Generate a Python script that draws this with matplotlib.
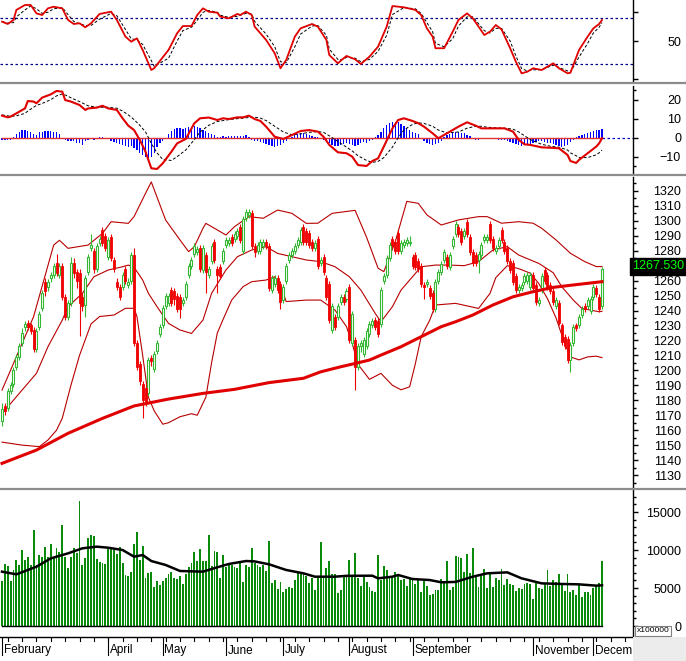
import numpy as np
import matplotlib
matplotlib.use('Agg')
import matplotlib.pyplot as plt
from matplotlib.lines import Line2D
from matplotlib.patches import Rectangle

plt.rcParams['font.family'] = ['Liberation Sans', 'DejaVu Sans']

# ---- giá (OHLC theo phiên) ----
opens = [1166, 1176, 1175, 1186, 1191, 1202, 1209, 1218, 1229, 1232,
         1230, 1227, 1214, 1229, 1242, 1259, 1256, 1262, 1264, 1272,
         1264, 1270, 1249, 1236, 1245, 1272, 1266, 1265, 1249, 1244,
         1266, 1282, 1280, 1268, 1285, 1294, 1290, 1276, 1289, 1274,
         1259, 1256, 1256, 1268, 1257, 1260, 1277, 1218, 1204, 1191,
         1188, 1185, 1208, 1201, 1213, 1224, 1230, 1243, 1245, 1254,
         1253, 1250, 1249, 1245, 1249, 1264, 1270, 1278, 1279, 1282,
         1267, 1277, 1264, 1273, 1286, 1268, 1269, 1273, 1284, 1285,
         1289, 1288, 1290, 1296, 1280, 1302, 1304, 1305, 1283, 1280,
         1280, 1283, 1286, 1283, 1254, 1258, 1262, 1258, 1247, 1260,
         1274, 1277, 1280, 1284, 1286, 1296, 1293, 1292, 1286, 1282,
         1288, 1272, 1276, 1262, 1258, 1227, 1236, 1236, 1246, 1249,
         1248, 1256, 1218, 1220, 1202, 1216, 1211, 1216, 1224, 1230,
         1234, 1233, 1231, 1260, 1264, 1275, 1288, 1286, 1292, 1280,
         1284, 1285, 1285, 1276, 1277, 1273, 1270, 1257, 1258, 1255,
         1252, 1241, 1260, 1266, 1274, 1276, 1269, 1283, 1291, 1296,
         1293, 1290, 1299, 1289, 1279, 1277, 1274, 1277, 1287, 1287,
         1298, 1288, 1280, 1283, 1294, 1286, 1282, 1273, 1272, 1263,
         1254, 1255, 1259, 1260, 1256, 1264, 1257, 1245, 1254, 1267,
         1264, 1257, 1253, 1243, 1245, 1230, 1222, 1221, 1207, 1218,
         1230, 1230, 1237, 1243, 1243, 1240, 1249, 1255, 1249, 1243]
closes = [1174, 1173, 1186, 1190, 1200, 1209, 1216, 1225, 1231, 1229,
          1226, 1214, 1226, 1238, 1252, 1253, 1259, 1264, 1270, 1265,
          1270, 1249, 1236, 1245, 1272, 1265, 1260, 1245, 1243, 1262,
          1276, 1284, 1268, 1283, 1288, 1285, 1282, 1287, 1275, 1268,
          1256, 1249, 1264, 1260, 1259, 1277, 1218, 1202, 1193, 1180,
          1179, 1207, 1206, 1211, 1218, 1229, 1242, 1250, 1250, 1245,
          1248, 1241, 1241, 1247, 1258, 1270, 1274, 1283, 1281, 1268,
          1282, 1266, 1268, 1283, 1274, 1264, 1263, 1280, 1287, 1287,
          1285, 1291, 1293, 1287, 1301, 1306, 1306, 1283, 1279, 1284,
          1286, 1286, 1283, 1255, 1262, 1262, 1254, 1246, 1256, 1270,
          1277, 1280, 1283, 1287, 1294, 1286, 1286, 1284, 1282, 1285,
          1270, 1274, 1266, 1249, 1234, 1243, 1229, 1243, 1249, 1246,
          1253, 1220, 1238, 1202, 1216, 1218, 1220, 1226, 1231, 1233,
          1229, 1224, 1254, 1263, 1275, 1284, 1284, 1280, 1280, 1285,
          1286, 1287, 1286, 1270, 1269, 1268, 1258, 1256, 1259, 1250,
          1241, 1259, 1266, 1271, 1279, 1270, 1277, 1288, 1298, 1291,
          1286, 1293, 1291, 1279, 1272, 1272, 1278, 1284, 1289, 1289,
          1287, 1282, 1282, 1287, 1287, 1280, 1273, 1267, 1259, 1254,
          1256, 1257, 1263, 1264, 1264, 1255, 1246, 1247, 1263, 1260,
          1256, 1253, 1246, 1247, 1232, 1219, 1216, 1207, 1217, 1229,
          1228, 1236, 1241, 1241, 1247, 1248, 1256, 1251, 1241, 1267.53]
highs = [1178, 1178, 1188, 1192, 1202, 1211, 1218, 1228, 1233, 1234,
         1232, 1229, 1228, 1240, 1254, 1262, 1261, 1266, 1272, 1278,
         1272, 1272, 1251, 1247, 1276, 1275, 1268, 1268, 1252, 1264,
         1278, 1291, 1282, 1285, 1290, 1296, 1292, 1289, 1291, 1276,
         1262, 1258, 1266, 1270, 1262, 1279, 1282, 1220, 1206, 1193,
         1192, 1209, 1210, 1213, 1220, 1231, 1244, 1252, 1252, 1256,
         1255, 1252, 1251, 1249, 1260, 1272, 1276, 1285, 1283, 1284,
         1284, 1279, 1270, 1285, 1288, 1270, 1271, 1282, 1289, 1289,
         1291, 1293, 1295, 1298, 1303, 1308, 1308, 1307, 1285, 1286,
         1288, 1288, 1288, 1285, 1264, 1264, 1264, 1260, 1258, 1272,
         1279, 1282, 1285, 1289, 1296, 1298, 1295, 1294, 1288, 1287,
         1290, 1276, 1278, 1264, 1260, 1245, 1238, 1245, 1251, 1251,
         1255, 1258, 1240, 1222, 1218, 1220, 1222, 1228, 1233, 1235,
         1236, 1235, 1256, 1265, 1277, 1286, 1290, 1288, 1294, 1287,
         1288, 1289, 1290, 1278, 1279, 1275, 1272, 1259, 1261, 1257,
         1254, 1261, 1268, 1273, 1281, 1278, 1279, 1290, 1300, 1298,
         1295, 1295, 1301, 1291, 1281, 1279, 1280, 1286, 1291, 1291,
         1300, 1290, 1284, 1289, 1296, 1288, 1284, 1275, 1274, 1265,
         1258, 1259, 1265, 1266, 1266, 1266, 1259, 1249, 1265, 1269,
         1266, 1259, 1255, 1249, 1247, 1232, 1224, 1223, 1219, 1231,
         1232, 1238, 1243, 1245, 1249, 1250, 1258, 1257, 1251, 1269]
lows = [1163, 1170, 1173, 1184, 1189, 1200, 1207, 1216, 1226, 1227,
        1224, 1212, 1212, 1227, 1240, 1250, 1253, 1259, 1262, 1263,
        1262, 1247, 1234, 1234, 1243, 1262, 1255, 1223, 1240, 1236,
        1264, 1280, 1265, 1266, 1283, 1283, 1280, 1274, 1273, 1266,
        1254, 1247, 1254, 1258, 1255, 1258, 1216, 1200, 1190, 1168,
        1176, 1183, 1203, 1199, 1211, 1222, 1228, 1241, 1243, 1243,
        1244, 1239, 1235, 1243, 1247, 1262, 1268, 1276, 1277, 1266,
        1265, 1252, 1262, 1271, 1272, 1252, 1261, 1271, 1282, 1283,
        1283, 1286, 1288, 1285, 1278, 1300, 1302, 1281, 1276, 1278,
        1278, 1281, 1281, 1253, 1252, 1256, 1252, 1241, 1245, 1258,
        1272, 1275, 1278, 1282, 1284, 1284, 1284, 1282, 1280, 1280,
        1268, 1270, 1264, 1247, 1232, 1225, 1227, 1234, 1244, 1244,
        1246, 1218, 1216, 1187, 1200, 1212, 1209, 1214, 1222, 1228,
        1227, 1222, 1229, 1258, 1262, 1273, 1282, 1278, 1278, 1278,
        1282, 1283, 1283, 1268, 1267, 1266, 1256, 1248, 1256, 1248,
        1239, 1239, 1258, 1264, 1272, 1268, 1267, 1281, 1289, 1289,
        1284, 1288, 1289, 1277, 1270, 1270, 1265, 1275, 1285, 1285,
        1285, 1280, 1278, 1281, 1285, 1278, 1271, 1265, 1257, 1252,
        1252, 1253, 1257, 1258, 1254, 1253, 1244, 1243, 1252, 1258,
        1254, 1251, 1244, 1241, 1230, 1217, 1214, 1205, 1199, 1216,
        1226, 1228, 1235, 1239, 1241, 1238, 1247, 1249, 1239, 1241]

# ---- khối lượng (x100000) ----
volumes = [5920, 8114, 7896, 5920, 7370, 8685, 8027, 10000, 8685, 9123,
           8027, 12632, 8027, 9342, 9123, 10439, 9123, 10745, 9123, 10307,
           9781, 13290, 9123, 7588, 9123, 10219, 9562, 16448, 8027, 8904,
           11623, 11974, 11842, 8816, 8465, 8246, 8158, 10439, 10439, 10000,
           9430, 10439, 8246, 6711, 6623, 7150, 10745, 12325, 8685, 10527,
           6272, 6930, 7062, 5176, 5920, 5395, 5920, 6360, 6799, 7150,
           6272, 6141, 6623, 5483, 6799, 7808, 8246, 9781, 8553, 10132,
           8553, 8553, 11974, 7939, 9869, 9781, 6272, 9342, 7808, 8114,
           8027, 7808, 7588, 8378, 5833, 8027, 7808, 10307, 8246, 8027,
           7808, 8027, 7237, 11185, 5702, 6053, 4869, 5746, 4518, 4869,
           5176, 4957, 6053, 7062, 7062, 6799, 6623, 5614, 6272, 4737,
           6623, 11097, 6623, 7588, 8553, 6799, 6799, 4299, 4737, 6492,
           6711, 8685, 6492, 9562, 6360, 5307, 6711, 5746, 5176, 4606,
           4518, 9342, 6053, 7896, 7370, 6360, 6623, 7062, 6799, 6053,
           6185, 5307, 6141, 6360, 5483, 6053, 4518, 5920, 5263, 4080,
           4167, 4737, 4737, 6185, 5746, 8553, 4737, 5176, 9211, 9123,
           8992, 7062, 9430, 6930, 10307, 6711, 5176, 6623, 7500, 4957,
           6799, 5176, 6360, 6053, 7500, 5395, 6185, 5483, 5395, 4606,
           5044, 4869, 5483, 5614, 5483, 3553, 5614, 5044, 4869, 5483,
           7370, 5307, 6053, 5833, 6799, 5614, 4606, 6799, 4430, 4737,
           4080, 5395, 3860, 4430, 4518, 4080, 5044, 5395, 5614, 8553]
vma_x = [0, 5, 12, 17, 23, 28, 33, 37, 42, 46, 49, 52, 57, 62, 70, 73, 79, 85, 88, 93,
         99, 105, 109, 116, 120, 129, 131, 136, 138, 143, 149, 153, 158, 164, 169, 176,
         181, 188, 195, 201, 207, 209]
vma_y = [7150, 6800, 7800, 8900, 9560, 10220, 10440, 10300, 10000, 9120, 9340, 8550,
         8030, 7240, 7150, 7500, 8160, 8550, 8500, 8120, 7370, 6930, 6490, 6490, 6600,
         6620, 6270, 6490, 6710, 6180, 6050, 5750, 5800, 6490, 6930, 7060, 6270, 5610,
         5530, 5480, 5310, 5350]

# ---- Bollinger & MA200 ----
bb_up_x = [0, 11, 18, 20, 23, 30, 35, 38, 44, 46, 50, 52, 57, 62, 65, 67, 70, 71, 75, 78,
           81, 86, 91, 96, 101, 106, 110, 115, 119, 123, 127, 131, 133, 137, 141, 145, 148,
           153, 159, 166, 169, 174, 180, 185, 188, 193, 198, 203, 207, 209]
bb_up = [1186.8, 1235.9, 1283.8, 1287, 1281.6, 1283.8, 1291.6, 1299.4, 1298.3, 1302.8,
         1318.4, 1326, 1300.5, 1287.2, 1279.4, 1282.7, 1295, 1298.3, 1293.9, 1290.5,
         1296.1, 1302.8, 1301.7, 1307.2, 1305, 1298.3, 1298.4, 1305, 1306, 1307,
         1289, 1268.3, 1266, 1286.1, 1313, 1311.7, 1304, 1297.2, 1300.6, 1302.8,
         1302.8, 1298.4, 1299.4, 1298.4, 1295, 1287.2, 1278.3, 1272.7, 1269.4, 1269.4]
bb_mid_x = [0, 6, 12, 16, 21, 23, 28, 32, 37, 42, 44, 46, 49, 51, 54, 58, 62, 66, 70, 73,
            78, 82, 87, 92, 96, 101, 106, 111, 116, 121, 125, 130, 132, 136, 139, 143, 146,
            151, 156, 161, 166, 171, 176, 180, 187, 192, 195, 199, 202, 208, 209]
bb_mid = [1171, 1184.6, 1198, 1215.8, 1233.6, 1242.6, 1251.5, 1262.6, 1267.1, 1269.3,
          1270.4, 1268.9, 1260.4, 1251.5, 1242.6, 1231.4, 1227, 1224.7, 1233.6, 1251.5,
          1267.1, 1276, 1280.5, 1282.7, 1278.2, 1276, 1273.8, 1272.7, 1269.3, 1262.6,
          1253.7, 1238.1, 1232.5, 1242.6, 1253.7, 1262.6, 1269.3, 1270.4, 1270.4, 1270,
          1272.7, 1280.5, 1282.7, 1277.1, 1271.5, 1265.3, 1255.9, 1247, 1241.4, 1239.2, 1239.5]
bb_lo_x = [0, 7, 13, 16, 19, 21, 24, 27, 31, 34, 39, 43, 46, 47, 49, 51, 53, 56, 58, 62,
           66, 68, 71, 73, 75, 77, 80, 84, 87, 92, 95, 98, 99, 106, 111, 116, 120, 122, 124,
           128, 132, 136, 139, 142, 144, 146, 149, 151, 158, 166, 170, 172, 176, 180, 184,
           187, 190, 193, 196, 198, 201, 204, 207, 209]
bb_lo = [1152, 1150, 1149, 1153.4, 1160, 1168, 1190, 1210, 1231, 1236,
         1237, 1241.5, 1241.5, 1236, 1210, 1182, 1173, 1164, 1165, 1169,
         1171, 1170, 1182, 1205, 1225, 1234, 1247, 1256, 1259.3, 1260.4,
         1262.6, 1251.5, 1246, 1247, 1247, 1240.3, 1229.2, 1218, 1204, 1194,
         1198, 1190, 1187, 1189, 1204.6, 1222.5, 1233.6, 1243.7, 1244.8, 1241.4,
         1251.5, 1262, 1270, 1268, 1265, 1258, 1248, 1235, 1218, 1209,
         1207, 1209, 1209.5, 1208.5]
ma_x = [0, 12, 23, 35, 46, 58, 70, 81, 93, 105, 111, 118, 123, 128, 132, 139, 146, 153,
        158, 164, 171, 178, 185, 192, 199, 209]
ma_y = [1137.8, 1146.7, 1157.9, 1167.9, 1176.2, 1180.8, 1184.6, 1187.3, 1191.8, 1194.7,
        1199, 1202.4, 1204.6, 1206.9, 1210.2, 1215.8, 1222.5, 1229.2, 1232.5, 1237,
        1243.7, 1249.2, 1252.6, 1255.5, 1257.1, 1259.3]

# ---- RSI ----
rsi_x = [0, 2, 4, 5, 8, 10, 12, 14, 16, 18, 21, 23, 25, 27, 29, 31, 34, 38, 40, 43,
         45, 47, 49, 52, 53, 58, 61, 63, 66, 68, 70, 72, 75, 76, 79, 82, 83, 85, 87, 88,
         92, 95, 97, 99, 102, 104, 108, 110, 113, 114, 117, 119, 120, 123, 125, 128, 131,
         134, 136, 140, 144, 146, 148, 150, 151, 154, 157, 159, 162, 164, 166, 168, 170,
         172, 174, 177, 179, 181, 183, 185, 188, 190, 192, 194, 197, 198, 201, 204, 206,
         208, 209]
rsi = [66.8, 64.8, 68.3, 77, 81.3, 81.3, 74, 72.6, 78.4, 79.8,
       78.4, 68.3, 64.8, 65.4, 61.9, 65.4, 73.5, 75.5, 68.3, 53.8,
       49.4, 52.3, 42.2, 24.8, 26.3, 42.2, 56.7, 63, 63, 72.6,
       78.4, 75.5, 74.6, 71.2, 69.7, 73.5, 72.6, 75.5, 72.6, 62.5,
       50.9, 39.3, 26.3, 33.5, 53.8, 61, 64.8, 62.5, 50.9, 37.8,
       30.6, 35, 37, 34.1, 30, 36.4, 45.1, 62.5, 80.4, 79.3,
       77, 72.6, 61, 53.8, 43.7, 43.7, 58.1, 68.3, 74, 69.7,
       62.5, 55.2, 58.1, 63.9, 60.1, 43.7, 32, 21.9, 23.3, 26.3,
       24.8, 27.7, 30.6, 26.3, 21.9, 22.4, 42.2, 53.8, 61, 64.8, 68.3]
rsi_sig = [67, 65.5, 66, 71, 77, 80.5, 78, 74, 75, 78,
           79, 73, 67, 65, 63.5, 63.5, 69, 74, 72, 60,
           52, 51, 47, 33, 28, 35, 50, 59, 62, 68,
           75, 76.5, 75, 72.5, 70.5, 71.5, 72.5, 74, 73.5, 67,
           56, 45, 32, 31, 45, 56, 63, 63.5, 55, 43,
           34, 34, 36, 35, 32, 34, 41, 55, 73, 79,
           78, 74, 66, 58, 48, 45, 52, 63, 71, 71,
           65, 59, 57, 61, 61, 50, 37, 26, 24, 25,
           25, 27, 29, 27, 24, 23, 36, 48, 57, 62, 66]

# ---- MACD ----
macd_x = [0, 2, 3, 5, 8, 9, 11, 12, 14, 17, 19, 21, 22, 24, 27, 29, 30, 33, 35, 37,
          40, 42, 44, 46, 48, 50, 52, 54, 56, 59, 61, 64, 67, 69, 72, 75, 77, 79, 82, 84,
          86, 88, 90, 92, 95, 98, 101, 104, 107, 110, 112, 114, 117, 120, 122, 124, 127,
          129, 131, 133, 136, 138, 140, 143, 145, 147, 150, 152, 155, 159, 162, 165, 167,
          169, 172, 175, 178, 180, 182, 184, 188, 191, 194, 197, 198, 200, 201, 204, 207,
          208, 209]
macd = [11.6, 10.7, 11.1, 12.8, 15.4, 19.3, 19.0, 18.1, 21.1, 22.8,
        24.6, 24.2, 19.8, 19.0, 17.2, 14.6, 15.4, 15.8, 16.8, 15.4,
        14.6, 10.2, 6.3, 4.0, -1.2, -7.4, -16.1, -16.5, -13.5, -7.4,
        -3.0, -0.7, 7.6, 10.2, 10.6, 9.3, 10.2, 9.8, 10.7, 10.7,
        11.6, 9.8, 8.8, 5.8, 0.5, -0.7, 1.4, 3.5, 4.0, 3.2,
        0.5, -3.8, -7.7, -8.2, -10.0, -14.4, -14.9, -12.3, -10.9, -4.7,
        4.9, 9.3, 10.2, 8.8, 7.6, 5.8, 2.3, -0.3, 2.3, 5.8,
        8.1, 6.3, 4.9, 4.9, 4.9, 4.9, 3.2, -1.2, -3.5, -3.8,
        -5.1, -5.3, -5.6, -9.1, -12.3, -13.3, -11.7, -8.2, -4.7, -3.0, -0.3]
macd_sig = [12, 11.5, 11.2, 11.5, 12.8, 14, 16, 17, 18, 20,
            22, 23, 22.5, 21, 19, 17.5, 16.8, 16, 16, 16,
            15.5, 14, 12, 9.5, 6.5, 3, -3, -8, -11.5, -12,
            -10, -6.5, -1, 3, 6.5, 8.5, 9, 9.5, 10, 10.3,
            10.6, 10.8, 10.3, 9, 6, 3, 1.5, 2, 2.8, 3.2,
            2.8, 1, -2, -5, -7, -9.5, -12, -13, -12.5, -10.5,
            -5, 0, 4, 7, 7.8, 7.5, 6, 4, 2.5, 3,
            5, 6, 6, 5.5, 5.2, 5, 4.5, 3, 1, -1,
            -3.5, -4.5, -5, -6.5, -8, -9.5, -10.5, -10.5, -9, -8, -6.5]
macd_hist = [-1, -1, -1, -1, 0.5, 2, 3, 4, 4, 3.5,
             3, 2, 1.5, 3, 3, 3.5, 3.5, 3.5, 3, 3,
             2, 0, -1, -2, -2, -2, -3, -3, -4, -2,
             -1, -0.5, -1, -0.5, 0.5, 0.3, -0.5, -0.5, -1.5, -2.5,
             -3, -3.5, -4, -4.5, -5, -4.5, -5.5, -6.5, -8, -9,
             -10, -11, -10, -8, -5, -3, -1.5, -0.5, 2, 3.5,
             4.5, 5, 5, 4.5, 5, 5.5, 5.5, 6, 5.5, 5,
             4, 3.5, 2.5, 2, 1.5, 0.5, 0.5, 0.8, 0.5, 0.8,
             1, 0.8, 0.8, 1, 1, 1.5, 0.5, -1, -1.5, -2,
             -2.5, -3, -3.5, -4, -4.5, -5, -4.5, -4, -3, -2,
             -0.5, 0.5, 1.5, 2, 2.5, 2.5, 2, 1.5, 1, 0.5,
             0.5, 0, -1, -2, -3, -4, -4.5, -4.5, -4, -3.5,
             -3, -3.5, -4, -4.5, -4, -3, -2.5, -3, -2, -1,
             0.5, 1.5, 3, 5, 6.5, 7.5, 8.5, 8.5, 8, 7,
             6, 5, 4, 3, 2.5, 2, 0, -1.5, -3, -3.5,
             -4, -3.5, -3, -2, 0.5, 1.5, 2, 2.5, 3, 3,
             2.5, 2.5, 1.5, 1, -0.5, -1, -1, -0.5, -0.5, -0.5,
             -0.5, -0.5, -0.5, -1, -1, -1, -2, -2.5, -3, -3.5,
             -4, -4.5, -4, -4, -3.5, -3, -2.5, -2, -2, -2.5,
             -3, -3, -3.5, -4, -4.5, -5, -4.5, -4, -2.5, -1,
             0.5, 1, 1.5, 2, 2.5, 3, 3.5, 4, 4, 4.5]

# ---- trục thời gian ----
month_names = ['February', 'April', 'May', 'June', 'July', 'August', 'September', 'November', 'December']
month_pos = [0, 37, 56, 78, 98, 121, 143, 185, 206]

# nhãn trục giá (1270 bị ô giá cuối che)
price_ticks = list(range(1130, 1330, 10))
price_labels = ['' if t == 1270 else str(t) for t in price_ticks]

W, H = 686, 661
XLIM = (-0.7, 219.8)
GREEN = '#34b834'
RED = '#f00000'

fig = plt.figure(figsize=(W / 100, H / 100), dpi=100)


def rect(x0, y0, x1, y1):
    return [x0 / W, 1 - y1 / H, (x1 - x0) / W, (y1 - y0) / H]


def style(ax, ylim, major, labels=None, minor=None):
    ax.set_xlim(*XLIM)
    ax.set_ylim(*ylim)
    for s in ['left', 'top', 'bottom']:
        ax.spines[s].set_visible(False)
    ax.spines['right'].set_linewidth(1.0)
    ax.set_xticks([])
    ax.yaxis.tick_right()
    ax.set_yticks(major)
    if labels is not None:
        ax.set_yticklabels(labels)
    if minor is not None:
        ax.set_yticks(minor, minor=True)
    ax.tick_params(axis='y', which='major', direction='out', length=3.6, width=1, labelsize=9, pad=31)
    ax.tick_params(axis='y', which='minor', direction='out', length=2.2, width=1)
    plt.setp(ax.get_yticklabels(), ha='right')


ax_rsi = fig.add_axes(rect(0, 0, 633, 82))
ax_macd = fig.add_axes(rect(0, 86, 633, 173))
ax_px = fig.add_axes(rect(0, 177, 633, 487))
ax_vol = fig.add_axes(rect(0, 490, 633, 637))
ax_mon = fig.add_axes(rect(0, 637, 633, 661))

# RSI
style(ax_rsi, (14.35, 85.65), [17, 50, 75], ['', '50', ''])
ax_rsi.axhline(70, color='#00008b', lw=0.9, ls=(0, (2, 2)))
ax_rsi.axhline(30, color='#00008b', lw=0.9, ls=(0, (2, 2)))
ax_rsi.plot(rsi_x, rsi_sig, color='black', lw=0.7, ls=(0, (3, 2)))
ax_rsi.plot(rsi_x, rsi, color='#e00000', lw=1.3)

# MACD
style(ax_macd, (-18.6, 27.2), [-10, 0, 10, 20], None, [-15, 25])
n = len(closes)
ax_macd.plot([n - 1, XLIM[1]], [0, 0], color='#0000cc', lw=0.9, ls=(0, (2, 2)))
ax_macd.bar(np.arange(len(macd_hist)), macd_hist, width=0.45, color='#0000ff', zorder=2)
ax_macd.plot([0, n - 1], [0, 0], color='#e03030', lw=1.0, zorder=3)
ax_macd.plot(macd_x, macd_sig, color='black', lw=0.7, ls=(0, (3, 2)), zorder=4)
ax_macd.plot(macd_x, macd, color='#e00000', lw=1.5, zorder=5)

# Giá
style(ax_px, (1122, 1329.3), price_ticks, price_labels, list(range(1125, 1331, 10)))
ax_px.plot(bb_up_x, bb_up, color='#b80000', lw=0.8)
ax_px.plot(bb_mid_x, bb_mid, color='#b80000', lw=0.8)
ax_px.plot(bb_lo_x, bb_lo, color='#b80000', lw=0.8)
o = np.array(opens)
c = np.array(closes)
hi = np.array(highs)
lo = np.array(lows)
x = np.arange(n)
up = c >= o
cols = np.where(up, GREEN, RED)
ax_px.vlines(x, lo, hi, colors=cols, lw=0.8, zorder=3)
ax_px.bar(x[up], c[up] - o[up], bottom=o[up], width=0.7, facecolor='white',
          edgecolor=GREEN, lw=0.8, zorder=4)
ax_px.bar(x[~up], o[~up] - c[~up], bottom=c[~up], width=0.7, facecolor=RED,
          edgecolor=RED, lw=0.6, zorder=4)
ax_px.plot(ma_x, ma_y, color='#e00000', lw=2.2, zorder=5)

# Khối lượng
style(ax_vol, (-1447, 17895), [0, 5000, 10000, 15000], None, list(range(1000, 18000, 1000)))
ax_vol.bar(np.arange(len(volumes)), volumes, width=0.65, color='#0a8a0a', zorder=2)
ax_vol.plot([0, n - 1], [0, 0], color='black', lw=1.0, zorder=3)
ax_vol.plot(vma_x, vma_y, color='black', lw=1.8, zorder=4)
ax_vol.spines['bottom'].set_visible(True)
ax_vol.spines['bottom'].set_linewidth(1.0)

# Dải tháng
ax_mon.set_xlim(*XLIM)
ax_mon.set_ylim(24, 0)
ax_mon.axis('off')
for t in range(2, n + 10, 5):
    ax_mon.plot([t, t], [0, 4], color='black', lw=0.8)
for m, name in zip(month_pos, month_names):
    ax_mon.plot([m, m], [0, 18], color='black', lw=0.8)
    ax_mon.text(m + 0.6, 16.5, name, fontsize=8.5, ha='left', va='baseline', clip_on=True)

# khung ngăn cách
for yy in [83, 175, 489]:
    fig.add_artist(Line2D([0, 1], [1 - yy / H, 1 - yy / H], color='#8c8c8c', lw=1.6))
fig.add_artist(Rectangle((633 / W, 0), 53 / W, 24 / H, facecolor='#ececec', edgecolor='none'))

# nhãn giá cuối
fig.text(684 / W, 1 - 266.5 / H, '1267.530', ha='right', va='center', color='#00ff00',
         fontsize=9, bbox=dict(boxstyle='square,pad=0.18', fc='black', ec='black'))
fig.text(637 / W, 1 - 631 / H, 'x100000', ha='left', va='center', fontsize=6,
         bbox=dict(boxstyle='square,pad=0.2', fc='white', ec='#808080', lw=0.8))

fig.savefig('out.png', dpi=100)
